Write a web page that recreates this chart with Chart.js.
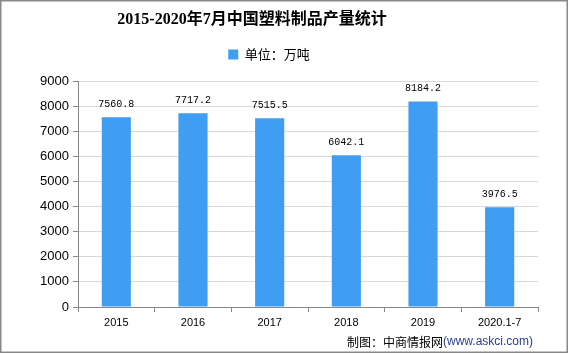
<!DOCTYPE html>
<html>
<head>
<meta charset="utf-8">
<script src="https://cdn.jsdelivr.net/npm/chart.js@4/dist/chart.umd.min.js"></script>
<style>
  html, body { margin: 0; padding: 0; background: #fff; }
  #wrap { width: 569px; height: 354px; position: relative; }
</style>
</head>
<body>
<div id="wrap"><canvas id="c" width="569" height="354"></canvas></div>
<script>
// 年份与产量（万吨）
const years = ['2015', '2016', '2017', '2018', '2019', '2020.1-7'];
const output = [7560.8, 7717.2, 7515.5, 6042.1, 8184.2, 3976.5];
const yTicks = [0, 1000, 2000, 3000, 4000, 5000, 6000, 7000, 8000, 9000];

const titleText = '2015-2020年7月中国塑料制品产量统计';
const barColor = '#3f9df2';

// 图例下方多留一点空间
const legendGap = {
    id: 'legendGap',
    beforeLayout(chart) {
        const lg = chart.legend;
        if (lg && !lg._gapPatched) {
            const fit = lg.fit;
            lg.fit = function () { fit.call(this); this.height += 10; };
            lg._gapPatched = true;
        }
    }
};

// 标题、数值标签、来源、外框
const decor = {
    id: 'decor',
    afterDatasetsDraw(chart) {
        const ctx = chart.ctx;
        const meta = chart.getDatasetMeta(0);
        ctx.save();
        ctx.fillStyle = '#000';
        ctx.font = '10px "Liberation Mono", monospace';
        ctx.textAlign = 'center';
        ctx.textBaseline = 'middle';
        meta.data.forEach((bar, i) => {
            ctx.fillText(output[i].toFixed(1), bar.x, bar.y - 13);
        });
        ctx.restore();
    },
    afterDraw(chart) {
        const ctx = chart.ctx;
        ctx.save();
        ctx.fillStyle = '#000';
        ctx.font = 'bold 16px "Liberation Serif", "Noto Sans CJK SC", serif';
        ctx.textAlign = 'center';
        ctx.textBaseline = 'middle';
        ctx.fillText(titleText, 252, 20);

        // 来源
        ctx.textAlign = 'left';
        ctx.font = '12px "Noto Sans CJK SC", sans-serif';
        ctx.fillText('制图：中商情报网', 347, 342);
        const w = ctx.measureText('制图：中商情报网').width;
        ctx.fillStyle = '#2a3f8f';
        ctx.font = '12px "Liberation Sans", sans-serif';
        ctx.fillText('(www.askci.com)', 347 + w, 342);

        // 外框
        ctx.strokeStyle = '#888';
        ctx.lineWidth = 1.5;
        ctx.strokeRect(0.75, 0.75, 566.5, 351.5);
        ctx.restore();
    }
};

new Chart(document.getElementById('c'), {
    type: 'bar',
    data: {
        labels: years,
        datasets: [{
            label: '单位：万吨',
            data: output,
            backgroundColor: barColor,
            borderWidth: 0,
            categoryPercentage: 1,
            barPercentage: 0.38
        }]
    },
    options: {
        responsive: false,
        animation: false,
        layout: { padding: { left: 0, right: 31, top: 38, bottom: 0 } },
        plugins: {
            title: { display: false },
            tooltip: { enabled: false },
            legend: {
                position: 'top',
                labels: {
                    boxWidth: 10,
                    boxHeight: 10,
                    padding: 10,
                    color: '#000',
                    font: { size: 13, family: '"Noto Sans CJK SC", sans-serif' }
                }
            }
        },
        scales: {
            x: {
                grid: { drawOnChartArea: false, offset: true, tickLength: 5, tickColor: '#888' },
                border: { color: '#888' },
                ticks: { color: '#000', padding: 4, font: { size: 11, family: '"Liberation Sans", sans-serif' } },
                afterFit: s => { s.height = 354 - 307; }
            },
            y: {
                min: 0,
                max: 9000,
                afterBuildTicks: s => { s.ticks = yTicks.map(v => ({ value: v })); },
                grid: { color: '#d9d9d9', tickColor: '#888', tickLength: 5 },
                border: { color: '#888' },
                ticks: {
                    color: '#000',
                    padding: 4,
                    font: { size: 13, family: '"Liberation Sans", sans-serif' },
                    callback: v => String(v)
                },
                afterFit: s => { s.width = 78; }
            }
        }
    },
    plugins: [legendGap, decor]
});
</script>
</body>
</html>
